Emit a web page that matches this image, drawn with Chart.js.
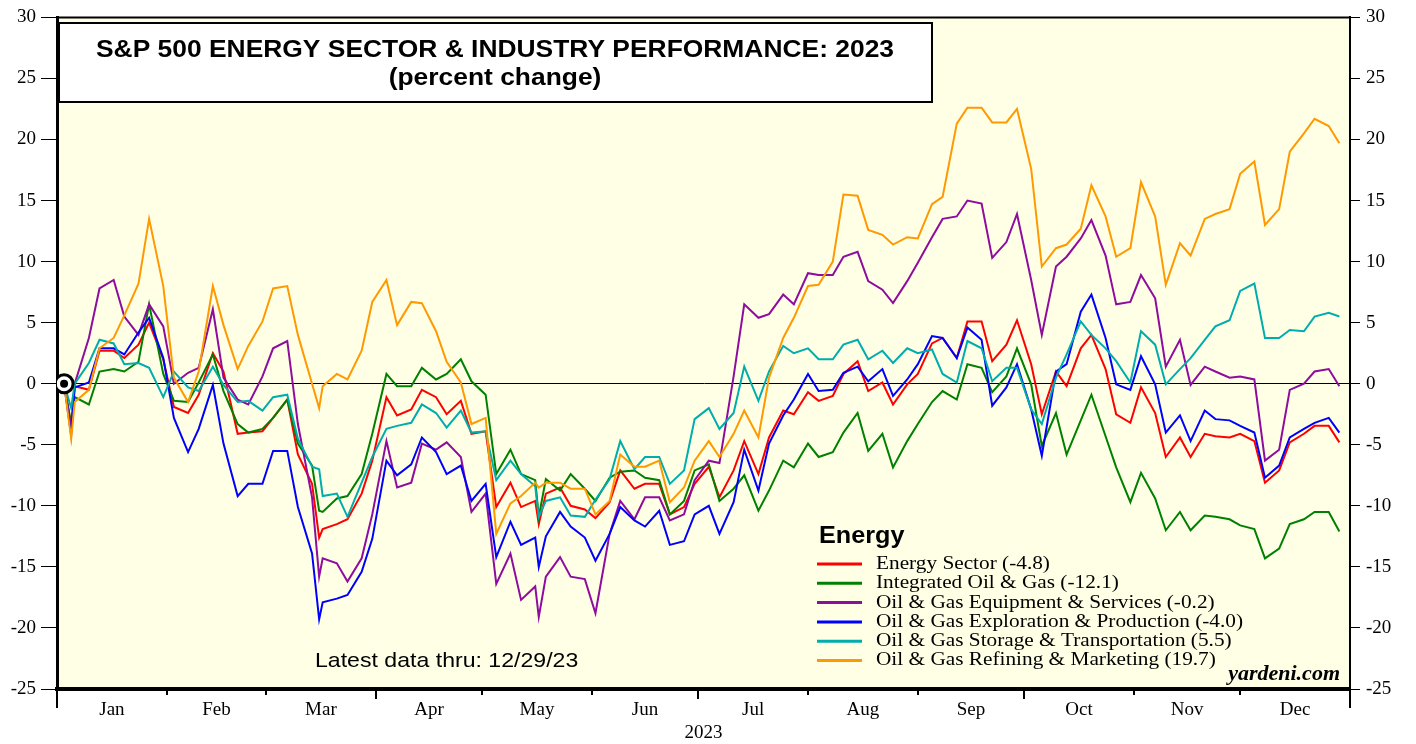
<!DOCTYPE html>
<html>
<head>
<meta charset="utf-8">
<title>S&amp;P 500 Energy Sector &amp; Industry Performance: 2023</title>
<script src="https://cdn.jsdelivr.net/npm/chart.js@4.4.0/dist/chart.umd.min.js"></script>
<style>
  html, body { margin: 0; padding: 0; background: #fff; }
  #wrap { width: 1416px; height: 744px; }
</style>
</head>
<body>
<div id="wrap"><canvas id="grafico" width="1416" height="744"></canvas></div>
<script>
// S&P 500 energy sector & industries, 2023 (percent change)

// Dates (sampled mostly Tue/Fri, plus a few turning points)
const dates = ['1/3','1/5','1/6','1/10','1/13','1/17','1/20','1/24','1/27','1/31',
  '2/3','2/7','2/10','2/14','2/17','2/21','2/24','2/28',
  '3/3','3/7','3/10','3/14','3/16','3/17','3/21','3/24','3/28','3/31',
  '4/4','4/7','4/11','4/14','4/18','4/21','4/25','4/28',
  '5/2','5/5','5/9','5/12','5/16','5/17','5/19','5/23','5/26','5/30',
  '6/2','6/6','6/9','6/13','6/16','6/20','6/23','6/27','6/30',
  '7/4','7/7','7/11','7/14','7/18','7/21','7/25','7/28',
  '8/1','8/4','8/8','8/11','8/15','8/18','8/22','8/25','8/29',
  '9/1','9/5','9/8','9/12','9/15','9/19','9/22','9/26','9/29',
  '10/3','10/6','10/10','10/13','10/17','10/20','10/24','10/27','10/31',
  '11/3','11/7','11/10','11/14','11/17','11/21','11/24','11/28',
  '12/1','12/5','12/8','12/12','12/15','12/19','12/22','12/26','12/29'];

const energySector = [0, -3.6, -0.2, -0.5, 2.7, 2.7, 2.1, 3.2, 5.0, 2.0,
  -1.9, -2.4, -0.9, 2.5, 1.0, -4.1, -4.0, -3.9,
  -2.8, -1.3, -5.8, -8.2, -12.6, -11.9, -11.5, -11.1, -9.0, -6.3,
  -1.1, -2.6, -2.1, -0.5, -1.1, -2.5, -1.4, -4.1,
  -3.9, -10.1, -8.1, -10.1, -9.6, -11.5, -9.0, -8.5, -10.0, -10.3,
  -11.0, -9.7, -7.1, -8.6, -8.2, -8.2, -10.7, -10.1, -8.2,
  -6.8, -9.3, -7.1, -4.7, -7.4, -4.4, -2.2, -2.5,
  -0.7, -1.4, -1.0, 0.8, 1.85, -0.6, 0.1, -1.7, -0.05,
  0.8, 3.3, 3.75, 2.1, 5.1, 5.1, 1.85, 3.2, 5.2,
  1.6, -2.5, 1.0, -0.2, 2.9, 4.0, 1.2, -2.5, -3.2,
  -0.3, -2.4, -6.0, -4.4, -6.0, -4.1, -4.3, -4.4,
  -4.1, -4.7, -8.1, -7.1, -4.8, -4.1, -3.45, -3.45, -4.8];

const integratedOilGas = [0, -3.3, -1.1, -1.7, 1.0, 1.2, 1.0, 1.8, 6.5, 0.8,
  -1.4, -1.5, 0.1, 2.4, -0.6, -3.3, -4.0, -3.7,
  -2.8, -1.3, -4.9, -6.7, -10.4, -10.5, -9.4, -9.2, -7.4, -4.1,
  0.8, -0.2, -0.2, 1.3, 0.35, 0.8, 2.0, 0.2,
  -0.9, -7.4, -5.4, -7.4, -7.9, -10.9, -7.8, -8.75, -7.4, -8.6,
  -9.6, -7.7, -7.2, -7.1, -7.7, -7.9, -10.7, -9.6, -7.1,
  -6.6, -9.6, -8.6, -7.5, -10.4, -8.75, -6.3, -6.85,
  -4.9, -6.0, -5.6, -4.0, -2.4, -5.5, -4.1, -6.85, -4.7,
  -3.3, -1.5, -0.6, -1.3, 1.6, 1.3, -0.7, 0.6, 2.9,
  -0.05, -5.1, -2.4, -5.8, -3.0, -0.9, -4.3, -6.85, -9.7,
  -7.3, -9.4, -12.0, -10.5, -12.0, -10.8, -10.9, -11.1,
  -11.6, -11.9, -14.3, -13.5, -11.5, -11.1, -10.5, -10.5, -12.1];

const equipmentServices = [0, -3.6, 0, 3.75, 7.8, 8.5, 5.5, 4.0, 6.5, 4.7,
  0, 0.9, 1.3, 6.1, 0.5, -1.3, -1.7, 0.6,
  2.9, 3.5, -3.3, -9.3, -15.8, -14.3, -14.7, -16.2, -14.3, -10.7,
  -4.7, -8.5, -8.1, -4.9, -5.4, -4.8, -6.0, -10.5,
  -9.0, -16.4, -13.9, -17.7, -16.6, -19.1, -15.8, -14.2, -15.8, -16.0,
  -18.8, -12.3, -9.6, -11.1, -9.3, -9.3, -11.2, -10.7, -7.9,
  -6.3, -6.5, 0.6, 6.5, 5.4, 5.7, 7.3, 6.5,
  9.05, 8.9, 8.9, 10.4, 10.8, 8.4, 7.7, 6.6, 8.4,
  9.9, 12.0, 13.5, 13.7, 15.0, 14.75, 10.3, 11.6, 13.9,
  8.5, 4.0, 9.6, 10.4, 11.9, 13.4, 10.5, 6.5, 6.7,
  8.9, 7.0, 1.4, 3.6, -0.1, 1.4, 1.0, 0.5,
  0.6, 0.35, -6.3, -5.4, -0.5, 0, 1.0, 1.2, -0.2];

const explorationProduction = [0, -4.2, -0.3, 0.1, 2.9, 2.9, 2.4, 4.2, 5.4, 2.1,
  -2.8, -5.6, -3.7, -0.1, -4.9, -9.2, -8.2, -8.2,
  -5.5, -5.5, -10.1, -13.9, -19.3, -17.9, -17.6, -17.3, -15.4, -12.7,
  -6.3, -7.5, -6.6, -4.4, -5.6, -7.4, -6.7, -9.6,
  -8.2, -14.2, -11.3, -13.2, -12.6, -15.0, -12.5, -10.5, -11.7, -12.6,
  -14.5, -12.3, -10.1, -11.2, -11.7, -10.4, -13.2, -12.9, -10.7,
  -10.0, -12.3, -9.7, -5.4, -8.75, -4.9, -2.6, -1.3,
  0.8, -0.6, -0.5, 0.9, 1.4, 0.2, 1.2, -1.0, 0.35,
  1.6, 3.9, 3.75, 2.1, 4.6, 3.6, -1.8, -0.3, 1.6,
  -2.1, -5.9, 1.0, 1.6, 5.9, 7.3, 3.75, -0.05, -0.5,
  2.25, -0.05, -4.0, -2.6, -4.7, -2.2, -2.9, -3.0,
  -3.45, -4.0, -7.7, -6.7, -4.4, -3.7, -3.2, -2.8, -4.0];

const storageTransport = [0, -2.0, 0, 1.7, 3.6, 3.3, 1.6, 1.7, 1.3, -1.1,
  1.0, -0.3, -0.6, 1.4, -0.1, -1.5, -1.4, -2.2,
  -1.1, -0.9, -4.5, -6.8, -7.0, -9.2, -9.0, -10.9, -8.1, -6.0,
  -3.7, -3.45, -3.2, -1.7, -2.4, -3.6, -2.2, -4.0,
  -3.9, -7.9, -6.3, -7.4, -8.4, -10.9, -9.6, -9.3, -10.8, -10.9,
  -9.5, -7.8, -4.7, -7.0, -6.0, -6.0, -8.2, -7.1, -2.9,
  -2.0, -3.7, -2.4, 1.4, -1.4, 1.0, 3.1, 2.5,
  2.9, 2.0, 2.0, 3.2, 3.6, 2.0, 2.7, 1.7, 2.9,
  2.5, 2.8, 0.8, 0.1, 3.5, 2.9, 0.2, 1.3, 1.3,
  -2.1, -3.3, 0.5, 2.4, 5.1, 4.0, 2.9, 1.85, 0.1,
  4.3, 3.2, -0.05, 1.2, 2.1, 3.6, 4.7, 5.2,
  7.6, 8.2, 3.75, 3.75, 4.4, 4.3, 5.5, 5.8, 5.5];

const refiningMarketing = [0, -4.5, -1.5, -0.5, 2.9, 3.75, 5.6, 8.2, 13.5, 8.0,
  0.5, -1.5, 1.0, 8.0, 4.8, 1.2, 3.1, 5.1,
  7.8, 8.0, 4.0, 0, -2.0, -0.2, 0.8, 0.35, 2.7, 6.7,
  8.5, 4.8, 6.7, 6.6, 4.3, 1.8, 0.1, -3.3,
  -2.8, -12.3, -9.8, -9.2, -8.1, -8.5, -8.1, -8.1, -8.6, -8.6,
  -10.7, -9.6, -5.8, -6.8, -6.8, -6.3, -9.7, -8.5, -6.3,
  -4.7, -6.0, -4.1, -2.2, -4.4, 0.5, 3.75, 5.4,
  8.0, 8.1, 10.0, 15.5, 15.4, 12.6, 12.2, 11.4, 12.0,
  11.9, 14.7, 15.3, 21.3, 22.6, 22.6, 21.4, 21.4, 22.5,
  17.6, 9.6, 11.1, 11.4, 12.7, 16.25, 13.7, 10.4, 11.1,
  16.5, 13.7, 8.1, 11.5, 10.5, 13.5, 13.9, 14.3,
  17.2, 18.2, 13.0, 14.3, 19.0, 20.5, 21.7, 21.1, 19.7];

const seriesLabels = ['Energy Sector (-4.8)', 'Integrated Oil & Gas (-12.1)',
  'Oil & Gas Equipment & Services (-0.2)', 'Oil & Gas Exploration & Production (-4.0)',
  'Oil & Gas Storage & Transportation (5.5)', 'Oil & Gas Refining & Marketing (19.7)'];
const seriesColors = ['#ff0000', '#008000', '#8e0c9e', '#0000ff', '#00adad', '#ff9900'];

// Eixo X
const monthNames = ['Jan','Feb','Mar','Apr','May','Jun','Jul','Aug','Sep','Oct','Nov','Dec'];
const monthStarts = [0, 31, 59, 90, 120, 151, 181, 212, 243, 273, 304, 334, 365];

// Utilidades
function dayOfYear(str) {
  const [m, d] = str.split('/').map(Number);
  return (Date.UTC(2023, m - 1, d) - Date.UTC(2023, 0, 1)) / 86400000;
}

function drawText(ctx, str, x, y, font, align, stretch) {
  ctx.save();
  ctx.font = font;
  ctx.fillStyle = '#000';
  ctx.textBaseline = 'middle';
  ctx.textAlign = align;
  ctx.translate(x, y);
  ctx.scale(stretch || 1, 1);
  ctx.fillText(str, 0, 0);
  ctx.restore();
}

const allSeries = [energySector, integratedOilGas, equipmentServices,
  explorationProduction, storageTransport, refiningMarketing];
const days = dates.map(dayOfYear);
const monthMids = monthNames.map((m, i) => (monthStarts[i] + monthStarts[i + 1]) / 2);

// Fundo e moldura
const decor = {
  id: 'decor',
  beforeDraw(chart) {
    const { ctx, chartArea: a } = chart;
    ctx.save();
    ctx.fillStyle = '#ffffe6';
    ctx.fillRect(a.left, a.top, a.right - a.left, a.bottom - a.top);
    ctx.restore();
  },
  afterDatasetsDraw(chart) {
    const { ctx, chartArea: a } = chart;
    const x = chart.scales.x;
    ctx.save();
    ctx.strokeStyle = '#000';
    // borda de cima
    ctx.lineWidth = 2;
    ctx.beginPath();
    ctx.moveTo(a.left, a.top);
    ctx.lineTo(a.right, a.top);
    ctx.stroke();

    // marcas dos meses
    monthStarts.forEach((d, i) => {
      const px = Math.round(x.getPixelForValue(d));
      let len = 6;
      if (i === 3 || i === 6 || i === 9) len = 10;
      if (i === 0 || i === 12) len = 19;
      ctx.beginPath();
      ctx.moveTo(px, a.bottom);
      ctx.lineTo(px, a.bottom + len);
      ctx.stroke();
    });

    // caixa do titulo
    ctx.fillStyle = '#fff';
    ctx.fillRect(59, 23, 873, 79);
    ctx.lineWidth = 2;
    ctx.strokeRect(59, 23, 873, 79);
    ctx.restore();

    drawText(ctx, 'S&P 500 ENERGY SECTOR & INDUSTRY PERFORMANCE: 2023', 495, 50,
      'bold 24px "Liberation Sans", Arial, sans-serif', 'center', 1.1);
    drawText(ctx, '(percent change)', 495, 78,
      'bold 24px "Liberation Sans", Arial, sans-serif', 'center', 1.1);

    // legenda
    drawText(ctx, 'Energy', 819, 536, 'bold 24px "Liberation Sans", Arial, sans-serif', 'left', 1.05);
    seriesLabels.forEach((lab, i) => {
      const y = 564 + i * 19.3;
      ctx.save();
      ctx.strokeStyle = seriesColors[i];
      ctx.lineWidth = 3;
      ctx.beginPath();
      ctx.moveTo(817, y);
      ctx.lineTo(862, y);
      ctx.stroke();
      ctx.restore();
      drawText(ctx, lab, 876, y, '19px "Liberation Serif", "Times New Roman", serif', 'left', 1.12);
    });

    drawText(ctx, 'yardeni.com', 1340, 675, 'italic bold 20px "Liberation Serif", "Times New Roman", serif', 'right', 1.1);
    drawText(ctx, 'Latest data thru: 12/29/23', 315, 661, '21px "Liberation Sans", Arial, sans-serif', 'left', 1.1);
  }
};

// Gráfico
const serifFont = { family: '"Liberation Serif", "Times New Roman", serif', size: 19 };

const datasets = allSeries.map((s, i) => ({
  label: seriesLabels[i],
  data: days.map((d, j) => ({ x: d, y: s[j] })),
  borderColor: seriesColors[i],
  borderWidth: 2,
  pointRadius: 0,
  tension: 0,
  fill: false,
  order: allSeries.length - i
}));

// marcador do ponto de partida
datasets.push({
  type: 'scatter',
  data: [{ x: days[0], y: 0 }],
  pointRadius: 9,
  pointBorderWidth: 3,
  pointBorderColor: '#000',
  pointBackgroundColor: '#fff',
  order: -1
});
datasets.push({
  type: 'scatter',
  data: [{ x: days[0], y: 0 }],
  pointRadius: 4,
  pointBorderWidth: 0,
  pointBackgroundColor: '#000',
  order: -2
});

new Chart(document.getElementById('grafico'), {
  type: 'line',
  data: { datasets },
  options: {
    responsive: false,
    animation: false,
    layout: { padding: { top: 16, left: 0, right: 0, bottom: 0 } },
    plugins: { legend: { display: false }, tooltip: { enabled: false } },
    scales: {
      x: {
        type: 'linear',
        min: 0,
        max: 365,
        afterFit: s => { s.height = 55; },
        afterBuildTicks: s => { s.ticks = monthMids.map(v => ({ value: v })); },
        ticks: {
          autoSkip: false,
          maxRotation: 0,
          color: '#000',
          font: serifFont,
          padding: 10,
          callback: (v, i) => monthNames[i]
        },
        grid: { display: false, drawTicks: false },
        border: { display: true, color: '#000', width: 4 },
        title: { display: true, text: '2023', color: '#000', font: serifFont, padding: { top: 0, bottom: 0 } }
      },
      y: {
        position: 'left',
        min: -25,
        max: 30,
        afterFit: s => { s.width = 57; },
        ticks: { stepSize: 5, color: '#000', font: serifFont, padding: 5 },
        grid: {
          color: c => (c.tick && c.tick.value === 0 ? '#000' : 'rgba(0,0,0,0)'),
          lineWidth: 1,
          tickColor: '#000',
          tickLength: 16
        },
        border: { display: true, color: '#000', width: 3 }
      },
      y2: {
        position: 'right',
        min: -25,
        max: 30,
        afterFit: s => { s.width = 66; },
        ticks: { stepSize: 5, color: '#000', font: serifFont, padding: 6 },
        grid: { drawOnChartArea: false, tickColor: '#000', tickLength: 10 },
        border: { display: true, color: '#000', width: 2 }
      }
    }
  },
  plugins: [decor]
});
</script>
</body>
</html>
